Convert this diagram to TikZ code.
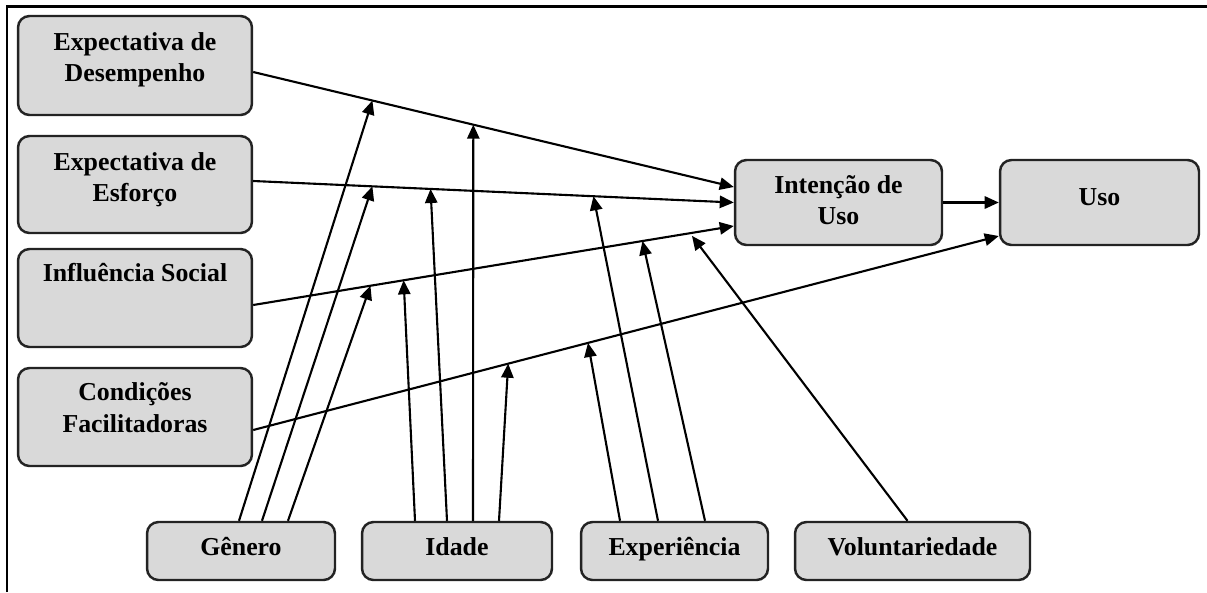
\documentclass[tikz,border=0pt]{standalone}
\usepackage{fontspec}
\setmainfont{Liberation Serif}
\usetikzlibrary{arrows.meta,calc}
\definecolor{boxfill}{RGB}{217,217,217}
\definecolor{boxline}{RGB}{35,35,35}
\newcommand{\mlines}[1]{\begin{tabular}[t]{@{}c@{}}#1\end{tabular}}
\begin{document}
\begin{tikzpicture}[x=0.02cm,y=-0.02cm,
  box/.style={draw=boxline, fill=boxfill, line width=1.4pt, rounded corners=6.5pt, inner sep=0pt},
  lbl/.style={font=\bfseries\fontsize{14.7}{18}\selectfont, inner sep=0pt, anchor=base},
  arr/.style={line width=1.2pt, -{Triangle[length=8pt,width=7pt]}}]
\useasboundingbox (0,0) rectangle (1207,592);
\draw[line width=1.4pt] (7,592) -- (7,6.5) -- (1207,6.5);

% boxes
\node[box, minimum width=4.68cm, minimum height=1.98cm] (ED) at (135,65.5) {};
\node[box, minimum width=4.68cm, minimum height=1.94cm] (EE) at (135,184.5) {};
\node[box, minimum width=4.68cm, minimum height=1.96cm] (IS) at (135,298) {};
\node[box, minimum width=4.68cm, minimum height=1.96cm] (CF) at (135,417) {};
\node[box, minimum width=4.14cm, minimum height=1.7cm] (INT) at (838.5,202.5) {};
\node[box, minimum width=3.98cm, minimum height=1.7cm] (USO) at (1099.5,202.5) {};
\node[box, minimum width=3.76cm, minimum height=1.16cm] (GEN) at (241,551) {};
\node[box, minimum width=3.8cm, minimum height=1.16cm] (IDA) at (457,551) {};
\node[box, minimum width=3.74cm, minimum height=1.16cm] (EXP) at (674.5,551) {};
\node[box, minimum width=4.7cm, minimum height=1.16cm] (VOL) at (912.5,551) {};

% labels
\node[lbl] (EDt) at (135,50) {\mlines{Expectativa de\\Desempenho}};
\node[lbl] (EEt) at (135,170) {\mlines{Expectativa de\\Esforço}};
\node[lbl] (ISt) at (135,281.7) {Influência Social};
\node[lbl] (CFt) at (135,400.7) {\mlines{Condições\\Facilitadoras}};
\node[lbl] (INTt) at (838.5,193) {\mlines{Intenção de\\Uso}};
\node[lbl] (USOt) at (1099.5,205) {Uso};
\node[lbl] (GENt) at (241,555) {Gênero};
\node[lbl] (IDAt) at (457,555) {Idade};
\node[lbl] (EXPt) at (674.5,555) {Experiência};
\node[lbl] (VOLt) at (912.5,555) {Voluntariedade};

% main paths
\draw[arr] ($(ED.east)+(0,6.5)$) -- coordinate[pos=0.248] (d1) coordinate[pos=0.458] (d2) ($(INT.west)+(0,-15.5)$);
\draw[arr] ($(EE.east)+(0,-3.5)$) -- coordinate[pos=0.248] (e1) coordinate[pos=0.369] (e2) coordinate[pos=0.708] (e3) (INT.west);
\draw[arr] ($(IS.east)+(0,7)$) -- coordinate[pos=0.244] (s1) coordinate[pos=0.313] (s2) coordinate[pos=0.810] (s3) coordinate[pos=0.913] (s4) ($(INT.west)+(0,23.5)$);
\draw[arr] ($(CF.east)+(0,13)$) -- coordinate[pos=0.342] (c1) coordinate[pos=0.449] (c2) ($(USO.west)+(0,33.5)$);
\draw[arr] (INT.east) -- (USO.west);

% moderators
\draw[arr] ($(GEN.north)+(-2,0)$) -- (d1);
\draw[arr] ($(GEN.north)+(21,0)$) -- (e1);
\draw[arr] ($(GEN.north)+(47,0)$) -- (s1);
\draw[arr] ($(IDA.north)+(-42,0)$) -- (s2);
\draw[arr] ($(IDA.north)+(-10,0)$) -- (e2);
\draw[arr] ($(IDA.north)+(16,0)$) -- (d2);
\draw[arr] ($(IDA.north)+(42,0)$) -- (c1);
\draw[arr] ($(EXP.north)+(-54.5,0)$) -- (c2);
\draw[arr] ($(EXP.north)+(-16.5,0)$) -- (e3);
\draw[arr] ($(EXP.north)+(30.5,0)$) -- (s3);
\draw[arr] ($(VOL.north)+(-5,0)$) -- ($(s4)+(0,3)$);
\end{tikzpicture}
\end{document}
